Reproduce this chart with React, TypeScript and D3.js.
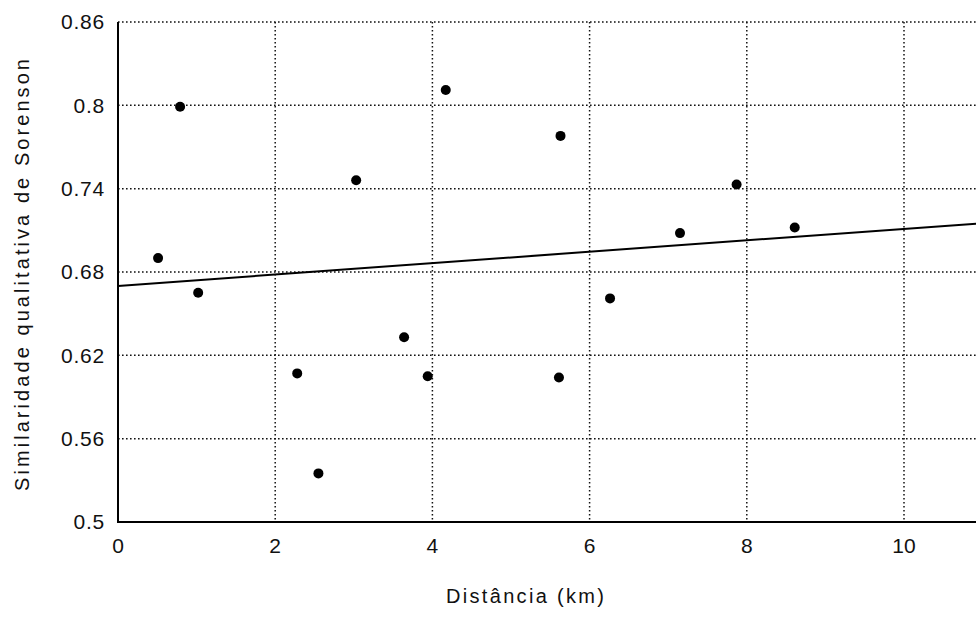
import React from "react";
import * as d3 from "d3";

const distanceKm = [0.51, 0.79, 1.02, 2.28, 2.55, 3.03, 3.64, 3.94, 4.17, 5.61, 5.63, 6.26, 7.15, 7.87, 8.61];
const sorenson = [0.690, 0.799, 0.665, 0.607, 0.535, 0.746, 0.633, 0.605, 0.811, 0.604, 0.778, 0.661, 0.708, 0.743, 0.712];
const xTicks = [0, 2, 4, 6, 8, 10];
const yTicks = [0.5, 0.56, 0.62, 0.68, 0.74, 0.8, 0.86];
const yTickLabels = ["0.5", "0.56", "0.62", "0.68", "0.74", "0.8", "0.86"];
const fitIntercept = 0.670;
const fitSlope = 0.0041;
const fitRange = [0, 12];

const W = 976;
const H = 618;
const left = 118;
const top = 22;
const bottom = 522;

export default function App() {
  const x = d3.scaleLinear().domain([0, 12]).range([left, left + 12 * 78.6]);
  const y = d3.scaleLinear().domain([0.5, 0.86]).range([bottom, top]);
  const line = d3
    .line<number>()
    .x((d) => x(d))
    .y((d) => y(fitIntercept + fitSlope * d));
  const font = "'Liberation Sans', Arial, sans-serif";
  const dash = "1.6,2.4";
  return (
    <svg
      width={W}
      height={H}
      style={{ position: "absolute", left: 0, top: 0, background: "#fff" }}
      fontFamily={font}
    >
      <rect x={0} y={0} width={W} height={H} fill="#fff" />
      {yTicks.filter((t) => t > 0.5).map((t) => (
        <line key={"h" + t} x1={left} x2={W} y1={y(t)} y2={y(t)} stroke="#111" strokeWidth={1.5} strokeDasharray={dash} />
      ))}
      {xTicks.filter((t) => t > 0).map((t) => (
        <line key={"v" + t} x1={x(t)} x2={x(t)} y1={top} y2={bottom} stroke="#111" strokeWidth={1.5} strokeDasharray={dash} />
      ))}
      <line x1={left} x2={left} y1={top} y2={bottom + 1} stroke="#000" strokeWidth={2} />
      <line x1={left} x2={W} y1={bottom} y2={bottom} stroke="#000" strokeWidth={2} />
      <path d={line(fitRange) || ""} fill="none" stroke="#000" strokeWidth={2} />
      {distanceKm.map((d, i) => (
        <circle key={i} cx={x(d)} cy={y(sorenson[i])} r={5} fill="#000" />
      ))}
      {yTicks.map((t, i) => (
        <text key={"yl" + t} x={105} y={y(t)} dy="0.35em" textAnchor="end" fontSize={21} letterSpacing={0.8} fill="#111">
          {yTickLabels[i]}
        </text>
      ))}
      {xTicks.map((t) => (
        <text key={"xl" + t} x={x(t)} y={553} textAnchor="middle" fontSize={21} fill="#111">
          {t}
        </text>
      ))}
      <text x={525} y={603} textAnchor="middle" fontSize={20} fill="#111" textLength={158} lengthAdjust="spacing">
        Distância (km)
      </text>
      <text
        transform="translate(29,275) rotate(-90)"
        textAnchor="middle"
        fontSize={20}
        fill="#111"
        textLength={432}
        lengthAdjust="spacing"
      >
        Similaridade qualitativa de Sorenson
      </text>
    </svg>
  );
}
